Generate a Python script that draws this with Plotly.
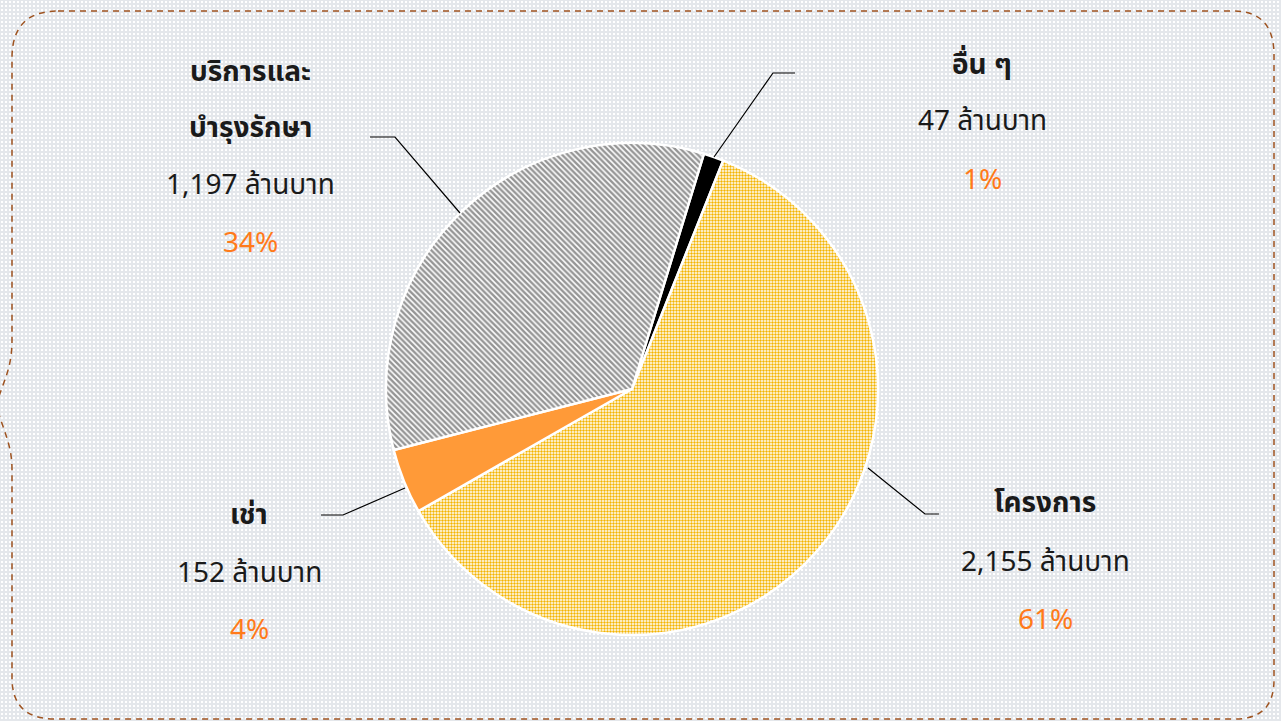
import base64
import plotly.graph_objects as go

# ---------------- data ----------------
categories = ["อื่น ๆ", "โครงการ", "เช่า", "บริการและ\nบำรุงรักษา"]
values = [47, 2155, 152, 1197]          # ล้านบาท
unit = "ล้านบาท"

# ---------------- styles ----------------
W, H = 1281, 721
slice_colors = ["#000000", "#F4B400", "#FF9A38", "#959595"]
slice_patterns = ["", ".", "", "\\"]
pct_color = "#FF7A1A"
text_color = "#1A1A1A"
font_family = "Tahoma, 'Noto Sans Thai', 'Noto Sans', sans-serif"
fsize = 28

def px(x):
    return x / W

def py(y):
    return 1 - y / H

# pie placement (pixels)
cx, cy, R = 632, 389, 246

fig = go.Figure()
fig.add_trace(go.Pie(
    values=values,
    labels=[c.replace("\n", "") for c in categories],
    sort=False,
    direction="clockwise",
    rotation=17,
    textinfo="none",
    hoverinfo="label+value+percent",
    showlegend=False,
    marker=dict(
        colors=slice_colors,
        line=dict(color="#FFFFFF", width=2.5),
        pattern=dict(
            shape=slice_patterns,
            fgcolor=slice_colors,
            bgcolor=["#000000", "#FFFFFF", "#FF9A38", "#FFFFFF"],
            size=[8, 3, 8, 4],
            solidity=[0.5, 0.5, 0.5, 0.6],
            fillmode="replace",
        ),
    ),
    domain=dict(x=[px(cx - R), px(cx + R)], y=[py(cy + R), py(cy - R)]),
))

# label layout: (center x, y of name lines..., y of value line, y of pct line)
label_layout = {
    0: dict(x=982, name_y=[66], val_y=121, pct_y=180),
    1: dict(x=1045, name_y=[503], val_y=562, pct_y=620),
    2: dict(x=249, name_y=[515], val_y=573, pct_y=630),
    3: dict(x=250, name_y=[73, 128], val_y=185, pct_y=243),
}
# leader lines in pixels: slice point -> elbow -> end
leaders = {
    0: [(714, 157), (773, 73), (795, 73)],
    1: [(868, 468), (925, 514), (939, 514)],
    2: [(405, 488), (343, 515), (321, 515)],
    3: [(460, 213), (395, 137), (370, 137)],
}

total = sum(values)
annotations = []
shapes = []
for i, (cat, v) in enumerate(zip(categories, values)):
    lay = label_layout[i]
    for line, yy in zip(cat.split("\n"), lay["name_y"]):
        annotations.append(dict(
            x=px(lay["x"]), y=py(yy), xref="paper", yref="paper",
            text=f"<b>{line}</b>", showarrow=False,
            xanchor="center", yanchor="middle",
            font=dict(size=fsize, color=text_color, family=font_family)))
    annotations.append(dict(
        x=px(lay["x"]), y=py(lay["val_y"]), xref="paper", yref="paper",
        text=f"{v:,} {unit}", showarrow=False,
        xanchor="center", yanchor="middle",
        font=dict(size=fsize, color=text_color, family=font_family)))
    annotations.append(dict(
        x=px(lay["x"]), y=py(lay["pct_y"]), xref="paper", yref="paper",
        text=f"{round(v / total * 100)}%", showarrow=False,
        xanchor="center", yanchor="middle",
        font=dict(size=fsize, color=pct_color, family=font_family)))
    pts = leaders[i]
    path = "M " + " L ".join(f"{px(a):.5f},{py(b):.5f}" for a, b in pts)
    shapes.append(dict(type="path", xref="paper", yref="paper", path=path,
                       line=dict(color="#000000", width=1.2)))

# dashed rounded frame with brace notch on the left
frame_pts = (
    f"M {px(58)},{py(11)} L {px(1233)},{py(11)} "
    f"Q {px(1274)},{py(11)} {px(1274)},{py(55)} "
    f"L {px(1274)},{py(680)} Q {px(1274)},{py(719)} {px(1235)},{py(719)} "
    f"L {px(55)},{py(719)} Q {px(12)},{py(719)} {px(12)},{py(678)} "
    f"L {px(12)},{py(470)} C {px(12)},{py(445)} {px(4)},{py(432)} {px(-4)},{py(405)} "
    f"C {px(4)},{py(380)} {px(12)},{py(368)} {px(12)},{py(340)} "
    f"L {px(12)},{py(58)} Q {px(12)},{py(11)} {px(58)},{py(11)} Z"
)
shapes.append(dict(type="path", xref="paper", yref="paper", path=frame_pts,
                   line=dict(color="#9E5320", width=1.5, dash="6px,5px"),
                   layer="below"))

# dotted background texture
svg = (
    f'<svg xmlns="http://www.w3.org/2000/svg" width="{W}" height="{H}">'
    '<defs><pattern id="p" width="4" height="4" patternUnits="userSpaceOnUse">'
    '<rect width="4" height="4" fill="#E4E7EB"/>'
    '<rect x="1" y="1" width="2" height="2" fill="#FFFFFF"/></pattern></defs>'
    f'<rect width="{W}" height="{H}" fill="url(#p)"/></svg>'
)
bg_src = "data:image/svg+xml;base64," + base64.b64encode(svg.encode()).decode()

fig.update_layout(
    width=W, height=H,
    margin=dict(l=0, r=0, t=0, b=0),
    paper_bgcolor="#ECEEF1",
    plot_bgcolor="rgba(0,0,0,0)",
    annotations=annotations,
    shapes=shapes,
    images=[dict(source=bg_src, xref="paper", yref="paper", x=0, y=1,
                 sizex=1, sizey=1, xanchor="left", yanchor="top",
                 sizing="stretch", layer="below")],
)

fig.write_html("out.html",
               config={"displayModeBar": False},
               post_script="document.body.style.margin='0';"
                           "document.body.style.overflow='hidden';")
